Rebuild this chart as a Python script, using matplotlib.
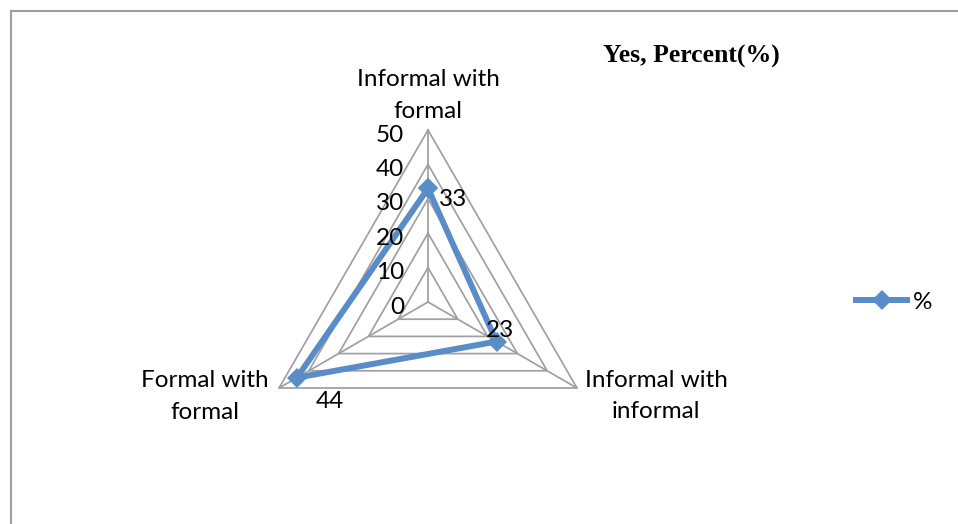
import numpy as np
import matplotlib
matplotlib.use('Agg')
import matplotlib.pyplot as plt
from matplotlib.lines import Line2D

# ---- data ----
categories = ['Informal with\nformal', 'Informal with\ninformal', 'Formal with\nformal']
values = [33, 23, 44]
levels = [0, 10, 20, 30, 40, 50]
series_name = '%'
title = 'Yes, Percent(%)'

# ---- style ----
W, H, DPI = 958, 524, 100
blue = '#5a8cc8'
grid_color = '#a0a0a0'
sans = ['Lato', 'DejaVu Sans']
fs = 17.5
PT = 72.0 / DPI  # points per pixel

fig = plt.figure(figsize=(W / DPI, H / DPI), dpi=DPI)
fig.patch.set_facecolor('white')

cx, cy, R = 428, 302, 172
ax = fig.add_axes([(cx - R) / W, (H - cy - R) / H, 2 * R / W, 2 * R / H], projection='polar')
ax.set_theta_offset(np.pi / 2)
ax.set_theta_direction(-1)
ax.set_ylim(0, levels[-1])
ax.set_xticks([])
ax.set_yticks([])
ax.grid(False)
ax.spines['polar'].set_visible(False)
ax.patch.set_visible(False)

n = len(categories)
theta = np.arange(n) * 2 * np.pi / n
theta_closed = np.append(theta, theta[0])

for lv in levels[1:]:
    ax.plot(theta_closed, [lv] * (n + 1), color=grid_color, lw=1.25, zorder=1, clip_on=False)
for t in theta:
    ax.plot([t, t], [0, levels[-1]], color=grid_color, lw=1.25, zorder=1, clip_on=False)

vals_closed = values + values[:1]
ax.plot(theta_closed, vals_closed, color=blue, lw=4.3, marker='D', ms=10.5,
        markeredgewidth=0, zorder=3, clip_on=False, solid_joinstyle='miter')

# radial tick labels
for lv in levels:
    ax.annotate(str(lv), xy=(0, lv), xytext=(-24 * PT, -11.5 * PT), textcoords='offset points',
                ha='right', va='baseline', fontsize=fs, family=sans, color='black',
                annotation_clip=False)

# category labels (offset of last line baseline, px)
cat_offsets = [(0, 12), (79, -30.5), (-74, -30.5)]
for t, lab, (dx, dy) in zip(theta, categories, cat_offsets):
    ax.annotate(lab, xy=(t, levels[-1]), xytext=(dx * PT, dy * PT), textcoords='offset points',
                ha='center', va='baseline', multialignment='center', fontsize=fs,
                family=sans, color='black', linespacing=1.62, annotation_clip=False)

# data labels
lab_offsets = [(25, -17.5), (3, 4.7), (33, -30)]
for t, v, (dx, dy) in zip(theta, values, lab_offsets):
    ax.annotate(str(v), xy=(t, v), xytext=(dx * PT, dy * PT), textcoords='offset points',
                ha='center', va='baseline', fontsize=fs, family=sans, color='black',
                annotation_clip=False, zorder=4)

# title
fig.text(691 / W, 1 - 63 / H, title, ha='center', va='baseline', fontsize=18.5,
         fontweight='bold', family=['Liberation Serif', 'DejaVu Serif'])

# legend
handle = Line2D([], [], color=blue, lw=4.3, marker='D', ms=10.5, markeredgewidth=0)
leg = fig.legend([handle], [series_name], loc='center left',
                 bbox_to_anchor=(856 / W, 1 - 302 / H), frameon=False,
                 borderpad=0, borderaxespad=0, handlelength=2.1, handletextpad=0.25,
                 prop={'family': sans, 'size': fs})

# outer border (top and left edges visible)
border_c = '#a0a0a0'
fig.add_artist(Line2D([10.5 / W, 1.0], [1 - 10.5 / H] * 2, transform=fig.transFigure,
                      color=border_c, lw=1.5))
fig.add_artist(Line2D([10.5 / W] * 2, [0.0, 1 - 10.5 / H], transform=fig.transFigure,
                      color=border_c, lw=1.5))

fig.savefig('out.png', dpi=DPI, facecolor='white')
